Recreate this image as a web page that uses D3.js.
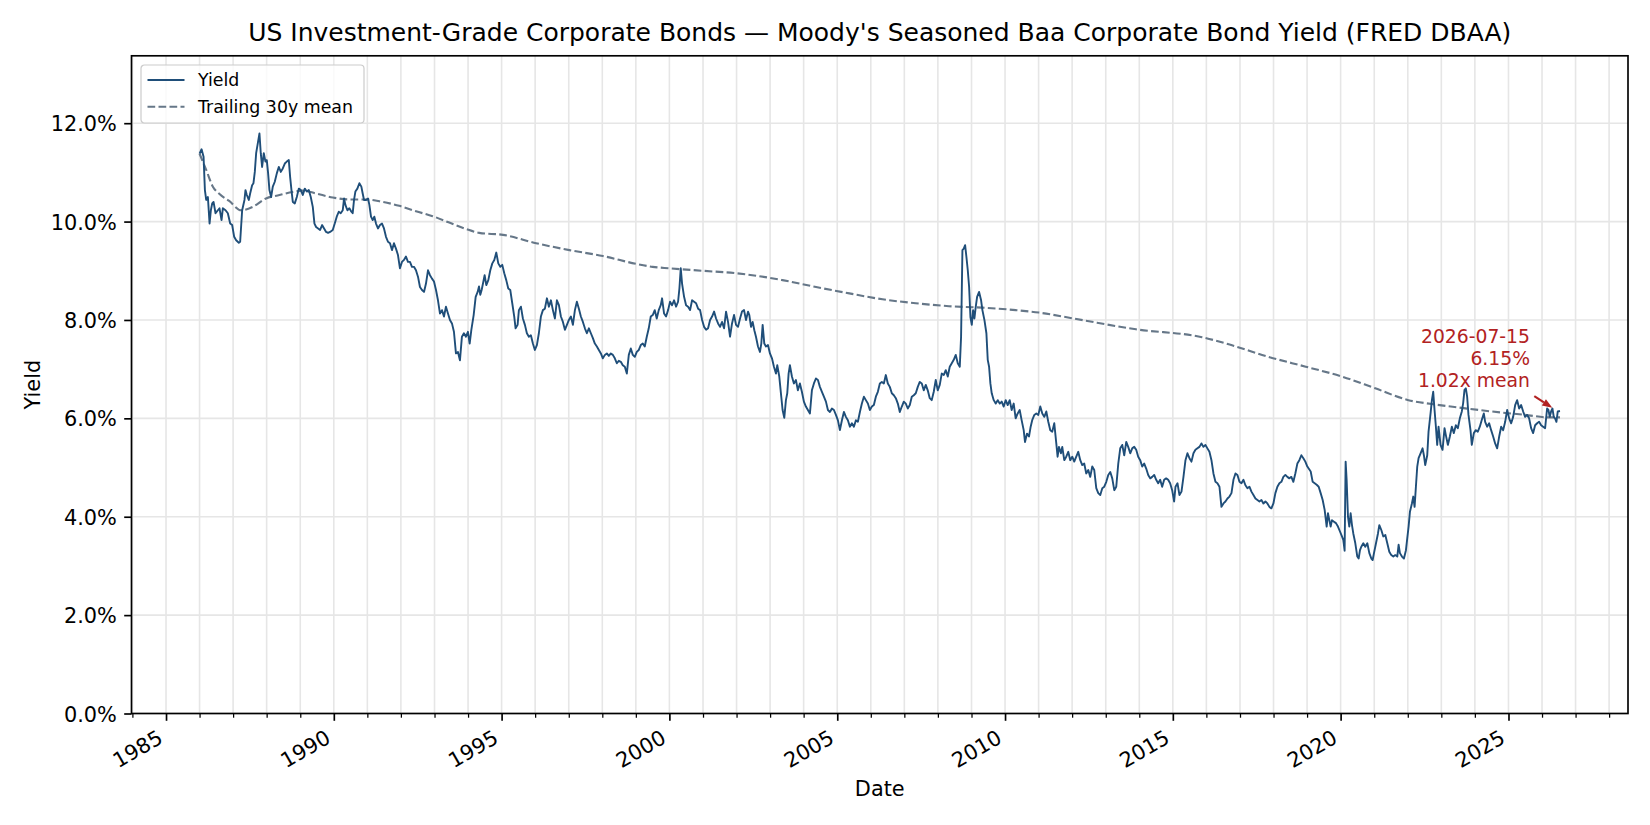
<!DOCTYPE html>
<html>
<head>
<meta charset="utf-8">
<script src="https://cdn.jsdelivr.net/npm/d3@7"></script>
<style>
  html, body { margin: 0; padding: 0; background: #fff; }
  svg { display: block; font-family: "DejaVu Sans", sans-serif; }
</style>
</head>
<body>
<div class="svg-container"></div>
<script>
/* CONSTANTS AND GLOBALS */
const width = 1650,
    height = 825,
    m = { top: 55.8, right: 22, bottom: 111.5, left: 131.5 };

const yieldColor = "#1f4e79",
    meanColor = "#667788",
    noteColor = "#b22222";

const titleText = "US Investment-Grade Corporate Bonds \u2014 Moody's Seasoned Baa Corporate Bond Yield (FRED DBAA)";
const xLabel = "Date", yLabel = "Yield";
const legendLabels = ["Yield", "Trailing 30y mean"];
const yTicks = [0, 2, 4, 6, 8, 10, 12];
const yMax = 13.37;
const lastDate = "2026-07-15", lastValue = 6.15, lastRatio = 1.02;

// yield, [decimal year, percent]
const yieldPoints = [
[1986.000,11.38],[1986.060,11.47],[1986.119,11.32],[1986.159,10.64],[1986.198,10.44],[1986.248,10.50],[1986.298,9.96],[1986.337,10.23],[1986.377,10.37],[1986.417,10.40],
[1986.476,10.17],[1986.546,10.23],[1986.595,10.27],[1986.655,10.03],[1986.694,10.27],[1986.774,10.23],[1986.843,10.17],[1986.913,9.96],[1986.972,9.93],[1987.032,9.69],
[1987.091,9.62],[1987.171,9.57],[1987.210,9.59],[1987.270,10.23],[1987.339,10.44],[1987.369,10.64],[1987.409,10.54],[1987.468,10.44],[1987.508,10.57],[1987.567,10.74],
[1987.607,10.78],[1987.647,11.01],[1987.687,11.39],[1987.736,11.59],[1987.786,11.79],[1987.825,11.39],[1987.865,11.11],[1987.915,11.39],[1987.964,11.22],[1988.004,11.25],
[1988.044,10.98],[1988.083,10.64],[1988.133,10.50],[1988.183,10.71],[1988.242,10.81],[1988.302,10.98],[1988.361,11.11],[1988.421,11.01],[1988.480,11.08],[1988.540,11.18],
[1988.599,11.22],[1988.659,11.25],[1988.698,10.91],[1988.738,10.64],[1988.778,10.40],[1988.837,10.37],[1988.897,10.50],[1988.956,10.67],[1989.016,10.64],[1989.075,10.54],
[1989.135,10.67],[1989.194,10.61],[1989.254,10.64],[1989.313,10.50],[1989.373,10.30],[1989.423,9.96],[1989.472,9.89],[1989.532,9.86],[1989.591,9.83],[1989.651,9.93],
[1989.710,9.86],[1989.770,9.79],[1989.829,9.77],[1989.889,9.79],[1989.968,9.83],[1990.028,9.96],[1990.087,10.10],[1990.147,10.20],[1990.206,10.17],[1990.266,10.23],
[1990.306,10.47],[1990.345,10.34],[1990.405,10.23],[1990.464,10.27],[1990.524,10.20],[1990.563,10.17],[1990.603,10.44],[1990.643,10.61],[1990.702,10.67],[1990.762,10.78],
[1990.821,10.71],[1990.861,10.57],[1990.901,10.44],[1990.960,10.44],[1991.020,10.47],[1991.060,10.34],[1991.109,10.10],[1991.159,10.03],[1991.208,10.10],[1991.258,9.96],
[1991.317,9.86],[1991.377,9.93],[1991.437,9.96],[1991.496,9.86],[1991.556,9.69],[1991.615,9.59],[1991.675,9.56],[1991.734,9.42],[1991.794,9.56],[1991.853,9.45],
[1991.913,9.32],[1991.972,9.05],[1992.032,9.18],[1992.091,9.22],[1992.151,9.29],[1992.210,9.18],[1992.270,9.18],[1992.329,9.08],[1992.389,9.08],[1992.448,9.01],
[1992.508,8.88],[1992.567,8.67],[1992.627,8.61],[1992.687,8.57],[1992.746,8.74],[1992.806,9.01],[1992.865,8.91],[1992.925,8.84],[1992.984,8.78],[1993.044,8.61],
[1993.103,8.40],[1993.163,8.13],[1993.222,8.20],[1993.282,8.07],[1993.341,8.27],[1993.401,8.13],[1993.460,8.00],[1993.520,7.93],[1993.579,7.76],[1993.639,7.32],
[1993.698,7.35],[1993.758,7.18],[1993.817,7.66],[1993.877,7.73],[1993.937,7.66],[1993.996,7.76],
[1994.048,7.52],[1994.098,7.80],[1994.167,8.10],[1994.227,8.47],[1994.286,8.57],[1994.326,8.68],[1994.365,8.51],[1994.405,8.61],[1994.445,8.74],[1994.494,8.91],
[1994.544,8.71],[1994.604,8.81],[1994.663,9.01],[1994.723,9.15],[1994.782,9.22],[1994.842,9.37],[1994.901,9.15],[1994.961,9.08],[1995.020,9.12],[1995.080,8.95],
[1995.139,8.81],[1995.199,8.64],[1995.258,8.61],[1995.318,8.34],[1995.377,8.07],[1995.417,7.83],[1995.477,7.90],[1995.516,8.20],[1995.576,8.27],[1995.635,8.03],
[1995.695,7.90],[1995.754,7.73],[1995.814,7.66],[1995.873,7.69],[1995.933,7.52],[1995.992,7.39],[1996.052,7.49],[1996.111,7.73],[1996.171,8.07],[1996.231,8.20],
[1996.290,8.23],[1996.350,8.44],[1996.409,8.27],[1996.469,8.40],[1996.528,8.20],[1996.588,8.03],[1996.647,8.40],[1996.707,8.30],[1996.766,8.07],[1996.826,7.96],
[1996.885,7.80],[1996.945,7.90],[1997.004,8.00],[1997.064,8.07],[1997.123,7.90],[1997.183,8.20],[1997.242,8.37],[1997.302,8.23],[1997.361,8.07],[1997.421,7.96],
[1997.481,7.83],[1997.540,7.73],[1997.600,7.83],[1997.659,7.73],[1997.719,7.63],[1997.778,7.52],[1997.838,7.46],[1997.897,7.39],[1997.957,7.32],[1998.016,7.22],
[1998.076,7.29],[1998.135,7.32],[1998.195,7.27],[1998.254,7.32],[1998.314,7.29],[1998.373,7.22],[1998.433,7.12],[1998.492,7.17],[1998.552,7.15],[1998.611,7.08],
[1998.671,7.05],[1998.731,6.91],[1998.790,7.29],[1998.850,7.42],[1998.909,7.29],[1998.969,7.25],[1999.028,7.35],[1999.088,7.39],[1999.147,7.49],[1999.207,7.52],
[1999.266,7.46],[1999.326,7.66],[1999.385,7.83],[1999.445,8.07],[1999.504,8.10],[1999.564,8.20],[1999.623,8.03],[1999.683,8.20],[1999.742,8.30],[1999.782,8.44],
[1999.842,8.13],[1999.901,8.07],[1999.961,8.20],[2000.020,8.37],[2000.080,8.30],[2000.139,8.40],[2000.199,8.27],[2000.258,8.37],[2000.298,8.64],[2000.338,9.05],
[2000.377,8.74],[2000.437,8.47],[2000.496,8.30],[2000.556,8.27],[2000.615,8.20],[2000.675,8.40],[2000.735,8.37],[2000.794,8.34],[2000.854,8.23],[2000.913,8.20],
[2000.973,8.00],[2001.032,7.86],[2001.092,7.80],[2001.151,7.83],[2001.211,8.00],[2001.270,8.07],[2001.330,8.17],[2001.389,8.03],[2001.449,7.93],[2001.508,7.86],
[2001.568,7.96],[2001.627,7.83],[2001.687,8.17],[2001.746,7.96],[2001.806,7.66],[2001.865,7.93],[2001.925,8.10],[2001.985,7.90],[2002.044,7.86],[2002.104,8.03],
[2002.163,8.17],[2002.223,8.20],[2002.282,8.00],[2002.342,8.17],
[2002.381,8.10],[2002.431,7.86],[2002.480,7.96],[2002.530,7.79],[2002.579,7.66],[2002.639,7.46],[2002.698,7.35],[2002.738,7.52],[2002.778,7.90],[2002.827,7.52],
[2002.877,7.46],[2002.937,7.49],[2002.996,7.32],[2003.056,7.22],[2003.115,7.05],[2003.175,6.91],[2003.214,7.08],[2003.274,6.85],[2003.333,6.44],[2003.373,6.17],
[2003.423,6.01],[2003.472,6.37],[2003.512,6.51],[2003.552,6.91],[2003.591,7.08],[2003.651,6.85],[2003.710,6.71],[2003.770,6.78],[2003.829,6.57],[2003.889,6.71],
[2003.948,6.54],[2004.008,6.34],[2004.067,6.24],[2004.127,6.17],[2004.187,6.10],[2004.246,6.57],[2004.306,6.71],[2004.365,6.81],[2004.425,6.78],[2004.484,6.64],
[2004.544,6.54],[2004.603,6.44],[2004.663,6.34],[2004.722,6.17],[2004.782,6.13],[2004.841,6.20],[2004.901,6.17],[2004.960,6.07],[2005.020,5.96],[2005.079,5.76],
[2005.139,5.96],[2005.198,6.13],[2005.258,6.03],[2005.317,5.96],[2005.377,5.83],[2005.437,5.90],[2005.496,5.83],[2005.556,5.96],[2005.615,5.93],[2005.675,6.13],
[2005.734,6.30],[2005.794,6.44],[2005.853,6.37],[2005.913,6.30],[2005.972,6.17],[2006.032,6.24],[2006.091,6.27],[2006.151,6.44],[2006.210,6.54],[2006.270,6.71],
[2006.329,6.74],[2006.389,6.71],[2006.448,6.88],[2006.508,6.71],[2006.567,6.64],[2006.627,6.51],[2006.687,6.47],[2006.746,6.41],[2006.806,6.30],[2006.865,6.13],
[2006.925,6.24],[2006.984,6.34],[2007.044,6.30],[2007.103,6.20],[2007.163,6.27],[2007.222,6.44],[2007.282,6.47],[2007.341,6.51],[2007.401,6.64],[2007.460,6.74],
[2007.520,6.71],[2007.579,6.57],[2007.639,6.68],[2007.698,6.57],[2007.758,6.41],[2007.817,6.37],[2007.877,6.54],[2007.937,6.78],[2007.996,6.57],[2008.056,6.68],
[2008.115,6.91],[2008.175,6.88],[2008.234,6.98],[2008.294,6.85],[2008.353,7.05],[2008.413,7.12],[2008.472,7.19],[2008.532,7.29],[2008.591,7.12],[2008.651,7.05],
[2008.690,7.66],[2008.730,9.42],[2008.770,9.45],[2008.810,9.52],[2008.849,9.28],[2008.889,9.01],[2008.929,8.67],[2008.968,8.06],[2009.008,7.90],[2009.048,8.20],
[2009.087,8.03],[2009.127,8.27],[2009.167,8.47],[2009.226,8.57],[2009.286,8.40],[2009.325,8.20],[2009.385,8.00],[2009.444,7.73],[2009.484,7.19],[2009.524,7.05],
[2009.563,6.71],[2009.603,6.51],[2009.663,6.37],[2009.722,6.30],[2009.782,6.37],[2009.841,6.30],[2009.901,6.34],[2009.960,6.24],[2010.020,6.37],[2010.079,6.27],
[2010.139,6.37],[2010.198,6.17],[2010.258,6.30],[2010.317,6.00],[2010.377,6.10],[2010.437,6.17],[2010.496,5.96],[2010.556,5.76],[2010.595,5.52],[2010.655,5.69],
[2010.714,5.63],[2010.764,5.83],[2010.813,5.97],[2010.873,6.07],[2010.932,6.10],[2010.992,6.07],[2011.051,6.24],[2011.111,6.10],[2011.170,6.03],[2011.230,6.14],
[2011.289,5.93],[2011.349,5.76],[2011.408,5.73],[2011.468,5.90],[2011.528,5.49],[2011.567,5.22],[2011.607,5.42],[2011.666,5.29],[2011.706,5.42],[2011.766,5.15],
[2011.825,5.22],[2011.885,5.32],[2011.944,5.15],[2012.004,5.22],[2012.063,5.12],[2012.123,5.22],[2012.182,5.32],[2012.242,5.15],[2012.301,5.05],[2012.361,5.08],
[2012.420,4.88],[2012.480,4.95],[2012.539,4.81],[2012.599,5.02],[2012.658,4.95],[2012.718,4.58],[2012.777,4.48],[2012.837,4.44],[2012.897,4.58],[2012.956,4.61],
[2013.016,4.71],[2013.075,4.85],[2013.135,4.91],[2013.194,4.78],[2013.254,4.54],[2013.313,4.61],[2013.373,5.08],[2013.432,5.39],[2013.492,5.46],[2013.551,5.25],
[2013.611,5.52],[2013.670,5.42],[2013.730,5.29],[2013.789,5.39],[2013.849,5.42],[2013.908,5.36],[2013.968,5.22],[2014.027,5.15],[2014.087,5.02],[2014.147,5.08],
[2014.206,4.98],[2014.266,4.85],[2014.325,4.78],[2014.385,4.81],[2014.444,4.85],[2014.504,4.75],[2014.563,4.68],[2014.623,4.75],[2014.682,4.61],[2014.742,4.75],
[2014.801,4.78],[2014.861,4.75],[2014.920,4.68],[2014.980,4.54],[2015.039,4.31],[2015.079,4.61],[2015.139,4.68],[2015.198,4.44],[2015.258,4.51],[2015.317,4.81],
[2015.377,5.15],[2015.436,5.29],[2015.496,5.19],[2015.555,5.12],[2015.615,5.29],[2015.674,5.36],[2015.734,5.39],[2015.793,5.42],[2015.853,5.49],[2015.912,5.42],
[2015.972,5.46],[2016.031,5.39],[2016.091,5.32],[2016.151,5.15],[2016.210,4.88],[2016.270,4.71],[2016.329,4.68],[2016.389,4.61],[2016.448,4.20],[2016.508,4.27],
[2016.567,4.31],[2016.627,4.37],[2016.686,4.41],[2016.746,4.48],[2016.805,4.75],[2016.865,4.88],[2016.924,4.85],[2016.984,4.71],[2017.043,4.68],[2017.103,4.75],
[2017.162,4.64],[2017.222,4.58],[2017.281,4.61],[2017.341,4.51],[2017.401,4.44],[2017.460,4.37],[2017.520,4.34],[2017.579,4.31],[2017.639,4.34],[2017.698,4.27],
[2017.758,4.31],[2017.817,4.27],[2017.877,4.20],[2017.936,4.17],[2017.996,4.27],[2018.055,4.48],[2018.115,4.61],[2018.174,4.68],[2018.234,4.71],[2018.293,4.81],
[2018.353,4.85],[2018.412,4.81],[2018.472,4.78],[2018.531,4.81],[2018.591,4.71],[2018.650,4.88],[2018.710,5.08],[2018.770,5.15],[2018.829,5.25],[2018.889,5.19],
[2018.948,5.12],[2019.008,5.02],
[2019.048,4.98],[2019.108,4.92],[2019.167,4.71],[2019.227,4.68],[2019.286,4.65],[2019.346,4.61],[2019.405,4.48],[2019.465,4.34],[2019.524,4.14],[2019.584,3.80],
[2019.623,4.07],[2019.663,3.93],[2019.703,3.80],[2019.742,3.93],[2019.802,3.90],[2019.861,3.87],[2019.921,3.80],[2019.981,3.70],[2020.040,3.60],[2020.080,3.53],
[2020.119,3.31],[2020.149,5.12],[2020.179,4.75],[2020.219,4.00],[2020.258,3.80],[2020.298,4.07],[2020.338,3.83],[2020.377,3.66],[2020.437,3.46],[2020.496,3.19],
[2020.536,3.15],[2020.576,3.32],[2020.615,3.39],[2020.675,3.46],[2020.734,3.39],[2020.794,3.46],[2020.854,3.26],[2020.913,3.15],[2020.953,3.12],[2020.992,3.26],
[2021.052,3.46],[2021.111,3.66],[2021.151,3.83],[2021.211,3.73],[2021.270,3.60],[2021.330,3.63],[2021.389,3.46],[2021.449,3.29],[2021.508,3.22],[2021.568,3.19],
[2021.627,3.22],[2021.687,3.19],[2021.726,3.43],[2021.766,3.26],[2021.826,3.19],[2021.885,3.15],[2021.945,3.32],[2021.984,3.56],[2022.024,3.80],[2022.064,4.10],
[2022.123,4.27],[2022.163,4.41],[2022.203,4.20],[2022.242,4.61],[2022.282,5.02],[2022.322,5.19],[2022.381,5.29],[2022.441,5.39],[2022.480,5.25],[2022.520,5.05],
[2022.580,5.25],[2022.619,5.73],[2022.679,6.10],[2022.719,6.37],[2022.758,6.54],[2022.798,6.17],[2022.838,5.83],[2022.877,5.46],[2022.917,5.83],[2022.977,5.46],
[2023.036,5.36],[2023.096,5.80],[2023.135,5.66],[2023.195,5.46],[2023.254,5.63],[2023.314,5.83],[2023.373,5.70],[2023.433,5.86],[2023.492,5.80],[2023.552,6.00],
[2023.611,6.14],[2023.651,6.31],[2023.691,6.58],[2023.731,6.61],[2023.770,6.44],[2023.810,6.07],[2023.870,5.76],[2023.909,5.46],[2023.969,5.70],[2024.028,5.76],
[2024.088,5.73],[2024.147,5.83],[2024.207,5.97],[2024.266,6.10],[2024.306,5.93],[2024.365,5.83],[2024.425,5.90],[2024.484,5.76],[2024.544,5.63],[2024.603,5.49],
[2024.663,5.39],[2024.723,5.63],[2024.782,5.83],[2024.842,5.76],[2024.901,5.93],[2024.961,6.17],[2025.020,6.00],[2025.080,5.90],[2025.139,6.03],[2025.199,6.27],
[2025.258,6.37],[2025.318,6.20],[2025.377,6.27],[2025.437,6.14],[2025.496,6.03],[2025.556,6.07],[2025.615,6.00],[2025.675,5.80],[2025.735,5.70],[2025.794,5.86],
[2025.854,5.90],[2025.913,5.93],[2025.973,5.86],[2026.032,5.83],[2026.092,5.80],[2026.151,6.20],[2026.191,6.17],[2026.230,6.03],[2026.270,6.14],[2026.310,6.20],
[2026.350,6.03],[2026.389,6.00],[2026.429,5.93],[2026.469,6.14],[2026.535,6.15]
];

// trailing 30y mean, [decimal year, percent]
const meanPoints = [
[1986.000,11.38],[1986.198,11.05],[1986.397,10.71],[1986.595,10.56],[1986.883,10.42],[1987.240,10.23],[1987.587,10.30],[1987.984,10.47],
[1988.381,10.54],[1988.679,10.59],[1989.075,10.63],[1989.472,10.57],[1989.968,10.49],[1990.464,10.45],[1990.960,10.45],[1991.456,10.40],
[1991.952,10.32],[1992.448,10.21],[1992.944,10.11],[1993.440,9.98],[1993.937,9.85],[1994.333,9.77],[1995.040,9.73],[1996.030,9.56],
[1997.020,9.42],[1998.020,9.30],[1999.010,9.14],[1999.500,9.08],[2000.000,9.05],[2000.990,9.00],[2001.980,8.95],[2002.680,8.89],
[2003.370,8.81],[2004.370,8.67],[2005.360,8.54],[2006.350,8.42],[2007.340,8.34],[2008.330,8.28],[2009.330,8.25],[2010.320,8.20],
[2011.010,8.15],[2012.040,8.03],[2013.900,7.81],[2015.870,7.65],[2016.740,7.49],[2017.850,7.25],[2018.960,7.05],[2020.040,6.85],
[2021.030,6.61],[2022.020,6.37],[2022.720,6.29],[2023.510,6.22],[2024.500,6.14],[2025.500,6.07],[2026.190,6.02],[2026.535,6.02]
];

/* HELPERS */
function toDate(y) {
    const yr = Math.floor(y);
    const t0 = Date.UTC(yr, 0, 1), t1 = Date.UTC(yr + 1, 0, 1);
    return new Date(t0 + (y - yr) * (t1 - t0));
}

/* SCALES */
const x0 = d3.min(yieldPoints, d => d[0]), x1 = d3.max(yieldPoints, d => d[0]);
const pad = (x1 - x0) * 0.05;   // matplotlib-style margin

const xScale = d3.scaleUtc()
    .domain([toDate(x0 - pad), toDate(x1 + pad)])
    .range([m.left, width - m.right]);

const yScale = d3.scaleLinear()
    .domain([0, yMax])
    .range([height - m.bottom, m.top]);

/* SVG */
const svg = d3.select(".svg-container")
    .append("svg")
    .attr("width", width)
    .attr("height", height)
    .attr("viewBox", `0 0 ${width} ${height}`);

svg.append("rect").attr("width", width).attr("height", height).attr("fill", "#fff");

// GRID
const yearTicks = xScale.ticks(d3.utcYear.every(1));
svg.append("g")
    .selectAll("line")
    .data(yearTicks)
    .join("line")
    .attr("x1", d => xScale(d)).attr("x2", d => xScale(d))
    .attr("y1", m.top).attr("y2", height - m.bottom)
    .attr("stroke", "#e6e6e6").attr("stroke-width", 1.6);

svg.append("g")
    .selectAll("line")
    .data(yTicks)
    .join("line")
    .attr("x1", m.left).attr("x2", width - m.right)
    .attr("y1", d => yScale(d)).attr("y2", d => yScale(d))
    .attr("stroke", "#e6e6e6").attr("stroke-width", 1.6);

// LINES
const line = d3.line()
    .x(d => xScale(toDate(d[0])))
    .y(d => yScale(d[1]));

svg.append("path")
    .datum(meanPoints)
    .attr("fill", "none")
    .attr("stroke", meanColor)
    .attr("stroke-width", 2.1)
    .attr("stroke-dasharray", "7.7 3.3")
    .attr("d", line.curve(d3.curveMonotoneX));

svg.append("path")
    .datum(yieldPoints)
    .attr("fill", "none")
    .attr("stroke", yieldColor)
    .attr("stroke-width", 1.9)
    .attr("stroke-linejoin", "round")
    .attr("d", line.curve(d3.curveLinear));

// AXES
const fontTick = 20.83;

const xAxis = d3.axisBottom(xScale)
    .ticks(d3.utcYear.every(5))
    .tickSize(7.3)
    .tickFormat(d3.utcFormat("%Y"));

const gx = svg.append("g")
    .attr("transform", `translate(0,${height - m.bottom})`)
    .call(xAxis)
    .attr("font-family", "DejaVu Sans, sans-serif")
    .attr("font-size", fontTick);
gx.select(".domain").remove();
gx.selectAll(".tick line").attr("stroke", "#000").attr("stroke-width", 1.67);
gx.selectAll(".tick text")
    .attr("y", null).attr("dy", null)
    .attr("transform", "translate(-2.4,28.4) rotate(-30)")
    .attr("text-anchor", "end")
    .attr("fill", "#000");

const xMinor = d3.axisBottom(xScale)
    .tickValues(yearTicks.filter(d => d.getUTCFullYear() % 5 !== 0))
    .tickSize(4.2)
    .tickFormat("");
const gxm = svg.append("g")
    .attr("transform", `translate(0,${height - m.bottom})`)
    .call(xMinor);
gxm.select(".domain").remove();
gxm.selectAll(".tick line").attr("stroke", "#000").attr("stroke-width", 1.25);

const yAxis = d3.axisLeft(yScale)
    .tickValues(yTicks)
    .tickSize(7.3)
    .tickPadding(7.3)
    .tickFormat(d => d3.format(".1f")(d) + "%");

const gy = svg.append("g")
    .attr("transform", `translate(${m.left},0)`)
    .call(yAxis)
    .attr("font-family", "DejaVu Sans, sans-serif")
    .attr("font-size", fontTick);
gy.select(".domain").remove();
gy.selectAll(".tick line").attr("stroke", "#000").attr("stroke-width", 1.67);
gy.selectAll(".tick text").attr("dy", "0.36em").attr("fill", "#000");

// SPINES
svg.append("rect")
    .attr("x", m.left).attr("y", m.top)
    .attr("width", width - m.left - m.right)
    .attr("height", height - m.top - m.bottom)
    .attr("fill", "none")
    .attr("stroke", "#000")
    .attr("stroke-width", 1.67);

// TITLE AND LABELS
svg.append("text")
    .attr("x", (m.left + width - m.right) / 2)
    .attr("y", 41)
    .attr("text-anchor", "middle")
    .attr("font-size", 25)
    .attr("fill", "#000")
    .text(titleText);

svg.append("text")
    .attr("x", (m.left + width - m.right) / 2)
    .attr("y", 796)
    .attr("text-anchor", "middle")
    .attr("font-size", fontTick)
    .attr("fill", "#000")
    .text(xLabel);

svg.append("text")
    .attr("transform", `translate(39.5,${(m.top + height - m.bottom) / 2}) rotate(-90)`)
    .attr("text-anchor", "middle")
    .attr("font-size", fontTick)
    .attr("fill", "#000")
    .text(yLabel);

// ANNOTATION ON LAST POINT
const last = yieldPoints[yieldPoints.length - 1];
const lx = xScale(toDate(last[0])), ly = yScale(last[1]);

const note = svg.append("text")
    .attr("text-anchor", "end")
    .attr("font-size", 18.75)
    .attr("fill", noteColor);
[lastDate, d3.format(".2f")(lastValue) + "%", d3.format(".2f")(lastRatio) + "x mean"].forEach((t, i) => {
    note.append("tspan")
        .attr("x", lx - 30)
        .attr("y", ly - 67.6 + i * 21.7)
        .text(t);
});

const tail = [lx - 25.7, ly - 14.9], tip = [lx - 7.7, ly - 3.2];
const ang = Math.atan2(tip[1] - tail[1], tip[0] - tail[0]);
const headLen = 10, headW = 3.8;
const base = [tip[0] - headLen * Math.cos(ang), tip[1] - headLen * Math.sin(ang)];
svg.append("line")
    .attr("x1", tail[0]).attr("y1", tail[1])
    .attr("x2", base[0]).attr("y2", base[1])
    .attr("stroke", noteColor).attr("stroke-width", 2.1);
svg.append("path")
    .attr("d", `M${tip[0]},${tip[1]}L${base[0] - headW * Math.sin(ang)},${base[1] + headW * Math.cos(ang)}L${base[0] + headW * Math.sin(ang)},${base[1] - headW * Math.cos(ang)}Z`)
    .attr("fill", noteColor);

// LEGEND
const legend = svg.append("g").attr("transform", "translate(141,65)");
legend.append("rect")
    .attr("width", 223).attr("height", 58)
    .attr("rx", 3.5)
    .attr("fill", "#fff").attr("fill-opacity", 0.8)
    .attr("stroke", "#cccccc").attr("stroke-width", 1.2);

legendLabels.forEach((label, i) => {
    const yy = 15 + i * 26.7;
    legend.append("line")
        .attr("x1", 6.5).attr("x2", 43.5)
        .attr("y1", yy).attr("y2", yy)
        .attr("stroke", i === 0 ? yieldColor : meanColor)
        .attr("stroke-width", i === 0 ? 1.9 : 2.1)
        .attr("stroke-dasharray", i === 0 ? null : "7.7 3.3");
    legend.append("text")
        .attr("x", 57)
        .attr("y", yy + 6.4)
        .attr("font-size", 17.36)
        .attr("fill", "#000")
        .text(label);
});
</script>
</body>
</html>
